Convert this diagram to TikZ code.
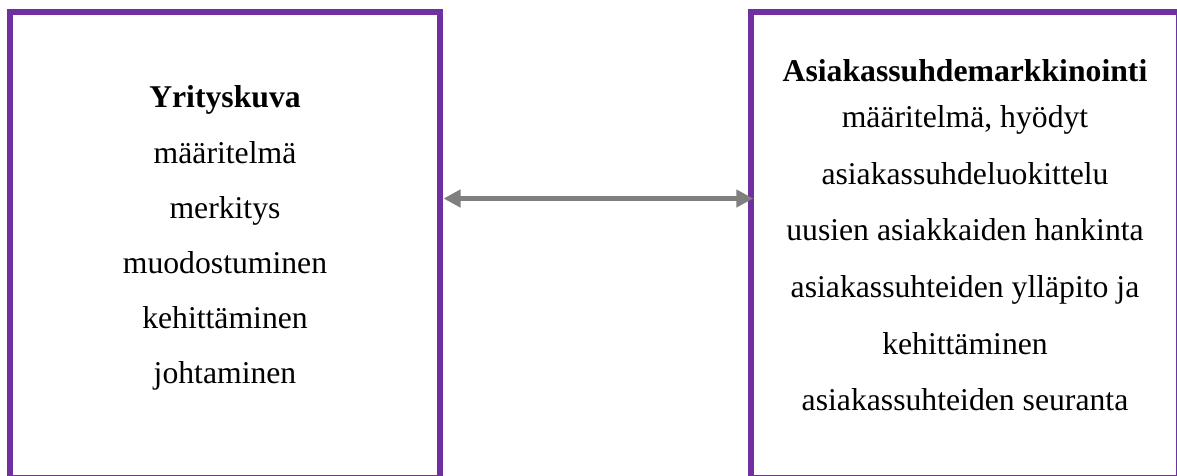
\documentclass[tikz,border=0pt]{standalone}
\usepackage{fontspec}
\setmainfont{Liberation Serif}
\usetikzlibrary{arrows.meta}
\definecolor{boxpurple}{HTML}{7030A0}
\definecolor{arrgray}{HTML}{7F7F7F}
\begin{document}
\begin{tikzpicture}[x=1pt,y=1pt,
  box/.style={draw=boxpurple, line width=6pt, rectangle, inner sep=0pt, outer sep=0pt},
  txt/.style={anchor=base, inner sep=0pt, font=\fontsize{31.7}{37}\selectfont},
  btxt/.style={txt, font=\fontsize{31.7}{37}\selectfont\bfseries},
  arr/.style={draw=arrgray, line width=5.5pt, {Triangle[length=17pt,width=17pt]}-{Triangle[length=17pt,width=17pt]}}]
\useasboundingbox (0,0) rectangle (1177,475);
\clip (0,0) rectangle (1177,475);
\fill[white] (0,0) rectangle (1177,475);
% boxes
\node[box, minimum width=429.7pt, minimum height=465pt] (L) at (225.15,230) {};
\node[box, minimum width=428pt, minimum height=465pt] (R) at (965.3,230) {};
% left text
\node[btxt] (l0) at (225,367) {Yrityskuva};
\node[txt] (l1) at (225,312) {määritelmä};
\node[txt] (l2) at (225,257) {merkitys};
\node[txt] (l3) at (225,202) {muodostuminen};
\node[txt] (l4) at (225,147) {kehittäminen};
\node[txt] (l5) at (225,92) {johtaminen};
% right text
\node[btxt] (r0) at (965,393) {Asiakassuhdemarkkinointi};
\node[txt] (r1) at (965,348) {määritelmä, hyödyt};
\node[txt] (r2) at (965,291) {asiakassuhdeluokittelu};
\node[txt] (r3) at (965,234.5) {uusien asiakkaiden hankinta};
\node[txt] (r4) at (965,178) {asiakassuhteiden ylläpito ja};
\node[txt] (r5) at (965,121) {kehittäminen};
\node[txt] (r6) at (965,65) {asiakassuhteiden seuranta};
% arrow
\coordinate (ay) at (0,276.5);
\draw[arr, shorten <=3.5pt, shorten >=-2pt] (L.east |- ay) -- (R.west |- ay);
\end{tikzpicture}
\end{document}
